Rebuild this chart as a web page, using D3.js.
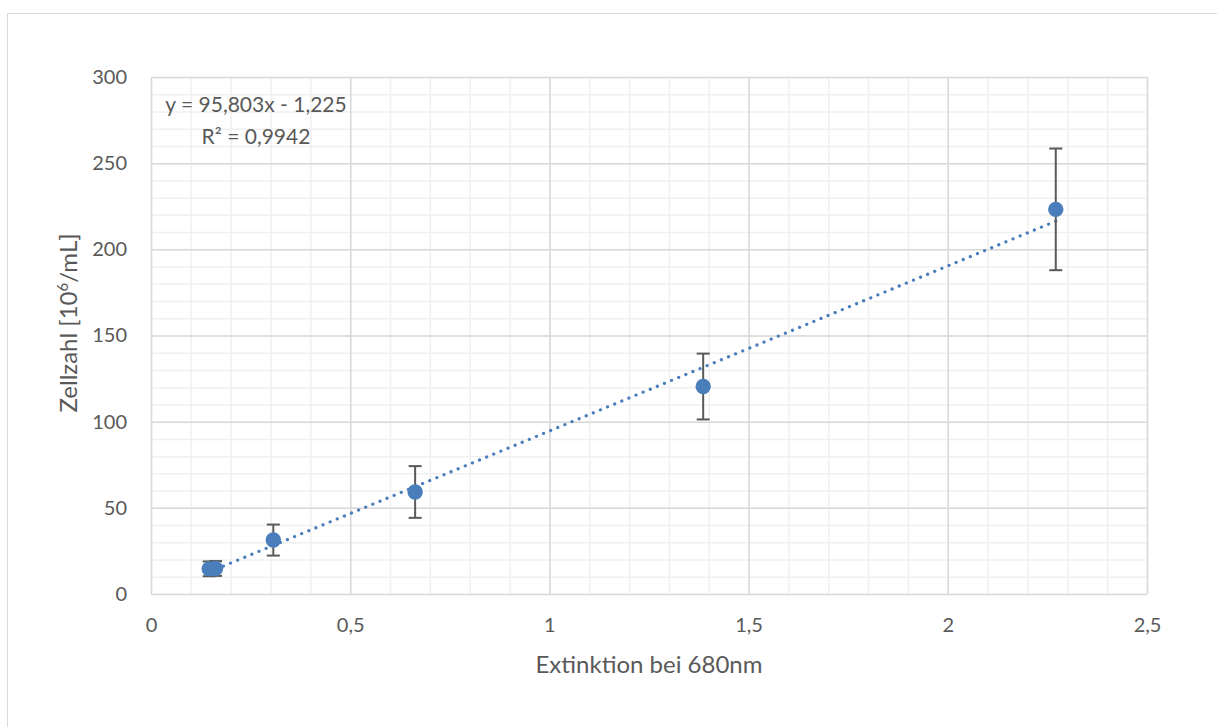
<!DOCTYPE html>
<html>
<head>
<meta charset="utf-8">
<script src="https://cdn.jsdelivr.net/npm/d3@7"></script>
<style>
  html, body { margin: 0; padding: 0; background: #fff; }
  svg { display: block; }
  text { font-family: Lato, "Open Sans", sans-serif; fill: #595959; }
</style>
</head>
<body>
<svg id="chart" width="1217" height="727"></svg>
<script>
// Measured points: optical extinction vs. cell count, with standard deviations
const extinction = [0.146, 0.162, 0.307, 0.663, 1.386, 2.271];
const cellCount  = [14.6, 14.8, 31.3, 59.2, 120.4, 223.2];
const stdDev     = [4.3, 4.3, 9.0, 15.0, 19.1, 35.3];

// Linear trendline y = slope*x + intercept
const slope = 95.803;
const intercept = -1.225;
const equationText = "y = 95,803x - 1,225";
const r2Text = "R² = 0,9942";

const xTicks = [0, 0.5, 1, 1.5, 2, 2.5];
const yTicks = [0, 50, 100, 150, 200, 250, 300];
const xMinor = d3.range(0, 2.5001, 0.1);
const yMinor = d3.range(0, 300.001, 10);

const xTitle = "Extinktion bei 680nm";

const svg = d3.select("#chart");
const W = 1217, H = 727;
const plot = { left: 151, top: 77, right: 1147, bottom: 594 };

// Chart frame
svg.append("rect")
  .attr("x", 7.5).attr("y", 13.5)
  .attr("width", W + 20).attr("height", H + 20)
  .attr("fill", "#fff").attr("stroke", "#d9d9d9").attr("stroke-width", 1);

const x = d3.scaleLinear().domain([0, 2.5]).range([plot.left, plot.right]);
const y = d3.scaleLinear().domain([0, 300]).range([plot.bottom, plot.top]);

const fmt = d => d3.format("~g")(d).replace(".", ",");

// Minor gridlines
const grid = svg.append("g");
grid.append("g")
  .attr("transform", `translate(0,${plot.bottom})`)
  .call(d3.axisBottom(x).tickValues(xMinor).tickSize(-(plot.bottom - plot.top)).tickFormat(""))
  .call(g => g.select(".domain").remove())
  .call(g => g.selectAll("line").attr("stroke", "#f0f0f0").attr("stroke-width", 1.5));
grid.append("g")
  .attr("transform", `translate(${plot.left},0)`)
  .call(d3.axisLeft(y).tickValues(yMinor).tickSize(-(plot.right - plot.left)).tickFormat(""))
  .call(g => g.select(".domain").remove())
  .call(g => g.selectAll("line").attr("stroke", "#f0f0f0").attr("stroke-width", 1.5));

// Major gridlines
grid.append("g")
  .attr("transform", `translate(0,${plot.bottom})`)
  .call(d3.axisBottom(x).tickValues(xTicks).tickSize(-(plot.bottom - plot.top)).tickFormat(""))
  .call(g => g.select(".domain").remove())
  .call(g => g.selectAll("line").attr("stroke", "#d9d9d9").attr("stroke-width", 1.5));
grid.append("g")
  .attr("transform", `translate(${plot.left},0)`)
  .call(d3.axisLeft(y).tickValues(yTicks).tickSize(-(plot.right - plot.left)).tickFormat(""))
  .call(g => g.select(".domain").remove())
  .call(g => g.selectAll("line").attr("stroke", "#d9d9d9").attr("stroke-width", 1.5));

// Tick labels
svg.append("g")
  .attr("transform", `translate(0,${plot.bottom + 21})`)
  .call(d3.axisBottom(x).tickValues(xTicks).tickSize(0).tickFormat(fmt))
  .call(g => g.select(".domain").remove())
  .call(g => g.selectAll("text").attr("font-size", 20).attr("fill", "#595959").attr("font-family", "Lato"));
svg.append("g")
  .attr("transform", `translate(${plot.left - 21},0)`)
  .call(d3.axisLeft(y).tickValues(yTicks).tickSize(0).tickFormat(fmt))
  .call(g => g.select(".domain").remove())
  .call(g => g.selectAll("text").attr("font-size", 20).attr("fill", "#595959").attr("font-family", "Lato"));

// Axis titles
svg.append("text")
  .attr("x", (plot.left + plot.right) / 2).attr("y", 673)
  .attr("text-anchor", "middle").attr("font-size", 24)
  .text(xTitle);
const yt = svg.append("text")
  .attr("transform", `translate(77,323) rotate(-90)`)
  .attr("text-anchor", "middle").attr("font-size", 24);
yt.append("tspan").text("Zellzahl [10");
yt.append("tspan").attr("dy", -9).attr("font-size", 15).text("6");
yt.append("tspan").attr("dy", 9).text("/mL]");

// Trendline (dotted) over the data range
const [xmin, xmax] = d3.extent(extinction);
svg.append("line")
  .attr("x1", x(xmin)).attr("y1", y(slope * xmin + intercept))
  .attr("x2", x(xmax)).attr("y2", y(slope * xmax + intercept))
  .attr("stroke", "#4a7ebb").attr("stroke-width", 3.2)
  .attr("stroke-linecap", "round").attr("stroke-dasharray", "0.1 7.6");

// Error bars
const data = extinction.map((e, i) => ({ e, c: cellCount[i], s: stdDev[i] }));
const eb = svg.append("g").attr("stroke", "#595959").attr("stroke-width", 2);
data.forEach(d => {
  eb.append("line").attr("x1", x(d.e)).attr("x2", x(d.e))
    .attr("y1", y(d.c - d.s)).attr("y2", y(d.c + d.s));
  [d.c - d.s, d.c + d.s].forEach(v => {
    eb.append("line").attr("x1", x(d.e) - 6.5).attr("x2", x(d.e) + 6.5)
      .attr("y1", y(v)).attr("y2", y(v));
  });
});

// Markers
svg.append("g").selectAll("circle").data(data).join("circle")
  .attr("cx", d => x(d.e)).attr("cy", d => y(d.c)).attr("r", 7.7)
  .attr("fill", "#4a7ebb");

// Trendline equation
svg.append("text").attr("x", 256).attr("y", 112)
  .attr("text-anchor", "middle").attr("font-size", 21).text(equationText);
svg.append("text").attr("x", 256).attr("y", 144)
  .attr("text-anchor", "middle").attr("font-size", 21).text(r2Text);
</script>
</body>
</html>
